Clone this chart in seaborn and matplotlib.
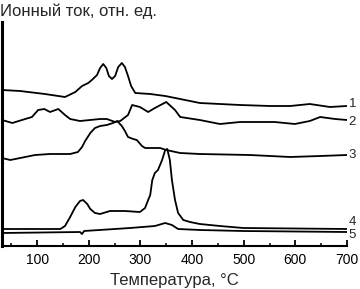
import numpy as np
import pandas as pd
import matplotlib
matplotlib.use("Agg")
import matplotlib.pyplot as plt
import seaborn as sns
from matplotlib.ticker import MultipleLocator

sns.set_theme(style="ticks")
plt.rcParams['font.family'] = ['Liberation Sans', 'DejaVu Sans']

# данные, температура в °C, ток в отн. ед.
t1 = [32, 67, 115, 154, 174, 187, 199, 206, 216, 222, 228, 234, 239, 245, 251, 257, 264,
      270, 276, 282, 290, 319, 348, 377, 415, 493, 551, 590, 628, 667, 700]
y1 = [156, 155, 152, 149, 154, 160, 163, 166, 171, 178, 182, 178, 170, 167, 170, 179, 183,
      179, 170, 160, 153, 152, 150, 147, 143, 141, 140, 140, 142, 139, 140]

t2 = [32, 52, 77, 90, 102, 114, 125, 141, 154, 164, 183, 222, 235, 251, 261, 276, 284,
      299, 315, 328, 350, 367, 377, 415, 454, 493, 560, 599, 628, 648, 677, 700]
y2 = [126, 123, 127, 129, 136, 137, 134, 137, 131, 127, 125, 127, 127, 124, 125, 131, 141,
      139, 134, 138, 144, 136, 129, 126, 122, 124, 124, 122, 125, 129, 127, 126]

t3 = [32, 48, 77, 96, 125, 164, 179, 187, 193, 203, 212, 222, 235, 247, 255, 264, 270,
      276, 286, 293, 303, 309, 338, 350, 377, 415, 512, 590, 648, 700]
y3 = [88, 86, 89, 91, 92, 92, 94, 99, 105, 113, 118, 120, 121, 123, 125, 120, 115,
      109, 107, 106, 100, 98, 98, 96, 93, 92, 91, 89, 90, 91]

t4 = [32, 145, 154, 164, 174, 183, 189, 197, 203, 212, 222, 241, 270, 299, 309, 315, 319,
      323, 328, 334, 342, 348, 352, 357, 361, 367, 373, 383, 396, 415, 454, 499, 700]
y4 = [17, 17, 20, 29, 39, 45, 46, 42, 37, 33, 32, 35, 35, 34, 38, 46, 51,
      66, 73, 76, 86, 96, 97, 86, 66, 46, 33, 26, 24, 22, 20, 18, 17]

t5 = [32, 183, 187, 191, 280, 328, 348, 361, 373, 415, 499, 700]
y5 = [13, 14, 12, 15, 18, 20, 23, 21, 17, 16, 15, 14]

labels = ["1", "2", "3", "4", "5"]
label_y = [142, 124, 91, 24, 11]

curves = [(t1, y1), (t2, y2), (t3, y3), (t4, y4), (t5, y5)]
frames = []
for lab, (t, y) in zip(labels, curves):
    frames.append(pd.DataFrame({"T": t, "I": y, "curve": lab}))
df = pd.concat(frames, ignore_index=True)

fig = plt.figure(figsize=(3.6, 2.89), dpi=100)
ax = fig.add_axes([2 / 360, 43 / 289, 345 / 360, 224 / 289])

sns.lineplot(data=df, x="T", y="I", units="curve", estimator=None, sort=False,
             color="black", linewidth=1.3, ax=ax, legend=False,
             solid_joinstyle="round", solid_capstyle="round")

for lab, ly in zip(labels, label_y):
    ax.text(703, ly, lab, fontsize=9.5, va="center", ha="left", clip_on=False)

ax.set_xlim(32, 700)
ax.set_ylim(0, 224)
ax.set_yticks([])
ax.xaxis.set_major_locator(MultipleLocator(100))
ax.xaxis.set_minor_locator(MultipleLocator(50))
ax.tick_params(axis="x", which="major", direction="in", length=4, width=1.3,
               labelsize=10, pad=5, colors="black")
ax.tick_params(axis="x", which="minor", direction="in", length=2.5, width=1.3)
ax.set_xticks([100, 200, 300, 400, 500, 600, 700])

for s in ["top", "right"]:
    ax.spines[s].set_visible(False)
ax.spines["left"].set_linewidth(2.2)
ax.spines["bottom"].set_linewidth(1.5)
ax.spines["left"].set_color("black")
ax.spines["bottom"].set_color("black")

ax.set_xlabel("Температура, °C", fontsize=12, labelpad=4)
ax.set_ylabel("")
fig.text(0.0, 0.962, "Ионный ток, отн. ед.", fontsize=12, ha="left", va="center")

fig.savefig("out.png", dpi=100)
